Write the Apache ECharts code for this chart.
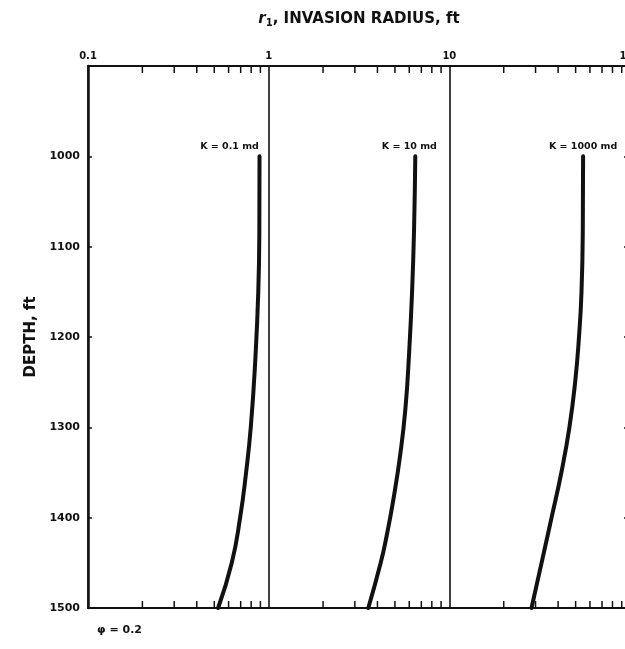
<!DOCTYPE html>
<html>
<head>
<meta charset="utf-8">
<script src="https://cdn.jsdelivr.net/npm/echarts@6/dist/echarts.min.js"></script>
<style>
html,body{margin:0;padding:0;background:#fff;}
#chart{width:625px;height:649px;}
</style>
</head>
<body>
<div id="chart"></div>
<script>
// ---- data ----
const depthsK01 = [1000, 1080, 1150, 1230, 1300, 1350, 1400, 1450, 1500];
const radiusK01 = [0.89, 0.888, 0.876, 0.841, 0.796, 0.750, 0.695, 0.625, 0.525];

const depthsK10 = [1000, 1080, 1150, 1220, 1280, 1330, 1380, 1420, 1450, 1500];
const radiusK10 = [6.48, 6.38, 6.22, 5.98, 5.71, 5.35, 4.90, 4.50, 4.17, 3.56];

const depthsK1000 = [1000, 1080, 1150, 1200, 1250, 1300, 1350, 1400, 1450, 1500];
const radiusK1000 = [55.0, 54.8, 53.9, 52.2, 49.7, 46.2, 41.7, 36.8, 32.4, 28.5];

const seriesNames = ['K = 0.1 md', 'K = 10 md', 'K = 1000 md'];
const minorTicks = [0.2,0.3,0.4,0.5,0.6,0.7,0.8,0.9, 2,3,4,5,6,7,8,9, 20,30,40,50,60,70,80,90];
const depthMin = 900, depthMax = 1500, depthStep = 100;
const radiusMin = 0.1, radiusMax = 100;
const xTitle = '{i|r}{s|1}{n|, INVASION RADIUS, ft}';
const yTitle = 'DEPTH, ft';
const footnote = 'φ = 0.2';

// ---- chart ----
const FONT = 'DejaVu Sans';
const INK = '#111';
const chart = echarts.init(document.getElementById('chart'), null, {renderer: 'canvas'});

function pairs(xs, ys) { return ys.map((d, i) => [xs[i], d]); }

function curve(name, rs, ds, labelOffset) {
  const data = pairs(rs, ds);
  return {
    name: name, type: 'line', xAxisIndex: 0, yAxisIndex: 0,
    data: data, smooth: 0.5,
    showSymbol: false, symbol: 'none',
    lineStyle: {color: INK, width: 4, cap: 'round'},
    label: {show: false}, z: 5,
    markPoint: {
      silent: true, symbol: 'circle', symbolSize: 0.5,
      itemStyle: {color: INK},
      label: {
        show: true, position: 'top', distance: 5, offset: labelOffset,
        formatter: name, fontFamily: FONT, fontWeight: 'bold', fontSize: 9.5, color: INK
      },
      data: [{coord: data[0]}]
    }
  };
}

const option = {
  animation: false,
  backgroundColor: '#fff',
  grid: {left: 88, top: 66, width: 542, height: 542, containLabel: false, outerBoundsMode: 'none'},
  xAxis: [{
    type: 'log', logBase: 10, min: radiusMin, max: radiusMax, position: 'top',
    name: xTitle, nameLocation: 'middle', nameGap: 38,
    nameTextStyle: {
      rich: {
        i: {fontFamily: FONT, fontStyle: 'italic', fontWeight: 'bold', fontSize: 15, color: INK},
        s: {fontFamily: FONT, fontWeight: 'bold', fontSize: 10, color: INK, verticalAlign: 'bottom', padding: [8, 0, 0, 0]},
        n: {fontFamily: FONT, fontWeight: 'bold', fontSize: 15, color: INK}
      }
    },
    axisLine: {show: true, lineStyle: {color: INK, width: 2}},
    axisTick: {show: false},
    axisLabel: {
      margin: 5, fontFamily: FONT, fontWeight: 'bold', fontSize: 10, color: INK,
      formatter: v => String(+v.toPrecision(3))
    },
    splitLine: {show: true, lineStyle: {color: INK, width: 1.6}}
  }, {
    type: 'log', logBase: 10, min: radiusMin, max: radiusMax, position: 'bottom',
    axisLine: {show: true, lineStyle: {color: INK, width: 2}},
    axisTick: {show: false}, axisLabel: {show: false}, splitLine: {show: false}
  }],
  yAxis: [{
    type: 'value', inverse: true, min: depthMin, max: depthMax, interval: depthStep,
    position: 'left',
    name: yTitle, nameLocation: 'middle', nameRotate: 90, nameGap: 45,
    nameTextStyle: {fontFamily: FONT, fontWeight: 'bold', fontSize: 15, color: INK},
    axisLine: {show: true, lineStyle: {color: INK, width: 2.5}},
    axisTick: {show: true, inside: true, length: 4, lineStyle: {color: INK, width: 1.5}},
    axisLabel: {
      margin: 8, fontFamily: FONT, fontWeight: 'bold', fontSize: 11, color: INK,
      formatter: v => (v === depthMin ? '' : String(v))
    },
    splitLine: {show: false}
  }, {
    type: 'value', inverse: true, min: depthMin, max: depthMax, interval: depthStep,
    position: 'right',
    axisLine: {show: true, lineStyle: {color: INK, width: 2}},
    axisTick: {show: true, inside: true, length: 6, lineStyle: {color: INK, width: 1.5}},
    axisLabel: {show: false}, splitLine: {show: false}
  }],
  graphic: [{
    type: 'text', left: 97, top: 625,
    style: {text: footnote, fontFamily: FONT, fontWeight: 'bold', fontSize: 11, fill: INK}
  }],
  series: [
    curve(seriesNames[0], radiusK01, depthsK01, [-30, 0]),
    curve(seriesNames[1], radiusK10, depthsK10, [-6, 0]),
    curve(seriesNames[2], radiusK1000, depthsK1000, [0, 0]),
    {
      type: 'custom', xAxisIndex: 0, yAxisIndex: 0, silent: true, z: 3,
      data: minorTicks.map(v => [v]),
      encode: {x: 0},
      renderItem: function (params, api) {
        const v = api.value(0);
        const t = api.coord([v, depthMin]);
        const b = api.coord([v, depthMax]);
        const st = {stroke: INK, lineWidth: 1.5};
        return {
          type: 'group',
          children: [
            {type: 'line', shape: {x1: t[0], y1: t[1], x2: t[0], y2: t[1] + 7}, style: st},
            {type: 'line', shape: {x1: b[0], y1: b[1], x2: b[0], y2: b[1] - 7}, style: st}
          ]
        };
      }
    }
  ]
};
chart.setOption(option);
</script>
</body>
</html>
